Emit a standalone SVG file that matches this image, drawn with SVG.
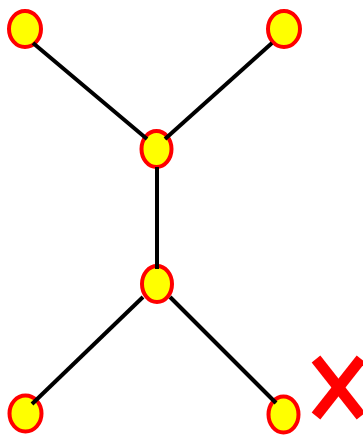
<svg xmlns="http://www.w3.org/2000/svg" width="363" height="435" viewBox="0 0 363 435">
<style>
.node{fill:#ffff00;stroke:#ff0000;stroke-width:4}
.edge{stroke:#000000;stroke-width:4;fill:none}
.cross{stroke:#ff0000;stroke-width:11;fill:none}
</style>
<rect width="363" height="435" fill="#ffffff"/>
<g id="n1"><ellipse class="node" cx="25" cy="29" rx="16" ry="18"/></g>
<g id="n2"><ellipse class="node" cx="284" cy="29" rx="16" ry="18"/></g>
<g id="n3"><ellipse class="node" cx="156.5" cy="149" rx="15" ry="18"/></g>
<g id="n4"><ellipse class="node" cx="157" cy="284" rx="15" ry="18"/></g>
<g id="n5"><ellipse class="node" cx="25.5" cy="413.5" rx="16" ry="18"/></g>
<g id="n6"><ellipse class="node" cx="283.5" cy="414.5" rx="15" ry="18"/></g>
<g id="connectors">
<line class="edge" x1="33" y1="43" x2="147" y2="139"/>
<line class="edge" x1="272" y1="43" x2="165" y2="139"/>
<line class="edge" x1="157" y1="167" x2="157" y2="269"/>
<line class="edge" x1="143" y1="297" x2="32" y2="404"/>
<line class="edge" x1="170" y1="297" x2="276" y2="403"/>
</g>
<g id="mark">
<line class="cross" x1="316" y1="359" x2="361" y2="416"/>
<line class="cross" x1="361" y1="359" x2="316" y2="416"/>
</g>
</svg>
